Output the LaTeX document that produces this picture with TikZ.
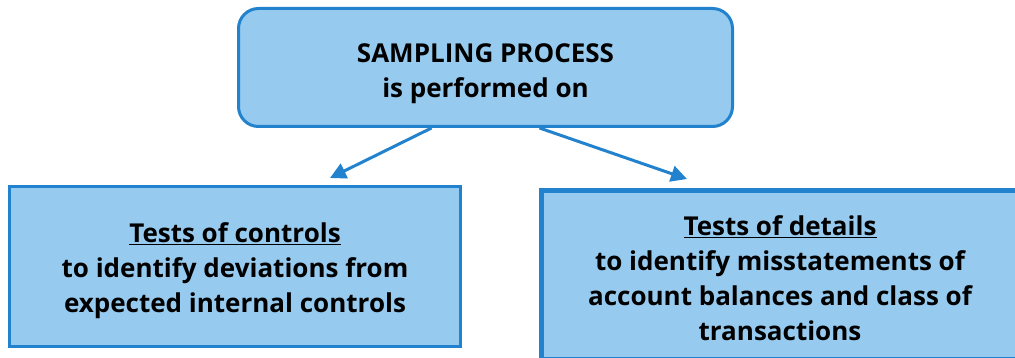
\documentclass[tikz,border=0pt]{standalone}
\usepackage{fontspec}
\setmainfont{Open Sans}
\usetikzlibrary{arrows.meta,calc}
\definecolor{boxfill}{RGB}{150,202,238}
\definecolor{boxline}{RGB}{35,130,205}

\begin{document}
\begin{tikzpicture}[x=1pt,y=-1pt,
  box/.style={draw=boxline,fill=boxfill,line width=3pt,align=center,inner sep=0pt,
    font=\fontsize{26}{35}\selectfont\bfseries},
  link/.style={draw=boxline,line width=3pt,-{Triangle[length=16pt,width=16pt]}}]
\useasboundingbox (0,0) rectangle (1015,358);
\clip (0,0) rectangle (1015,358);

\node (sp) at (485.5,67.5) [box,rounded corners=20pt,minimum width=494pt,minimum height=118pt]
  {\rule{0pt}{32pt}SAMPLING PROCESS\\is performed on};
\node (toc) at (235,266.5) [box,minimum width=451pt,minimum height=160pt]
  {\rule{0pt}{28pt}\underline{Tests of controls}\\to identify deviations from\\expected internal controls};
\node (tod) at (780,274.75) [box,line width=5pt,minimum width=477pt,minimum height=168.5pt]
  {\rule{0pt}{26pt}\underline{Tests of details}\\to identify misstatements of\\account balances and class of\\transactions};

\coordinate (tocTip) at (330,178);
\coordinate (todTip) at (687,179);
\draw[link] ([xshift=-54pt]sp.south) -- (tocTip);
\draw[link] ([xshift=54pt]sp.south) -- (todTip);
\end{tikzpicture}
\end{document}
